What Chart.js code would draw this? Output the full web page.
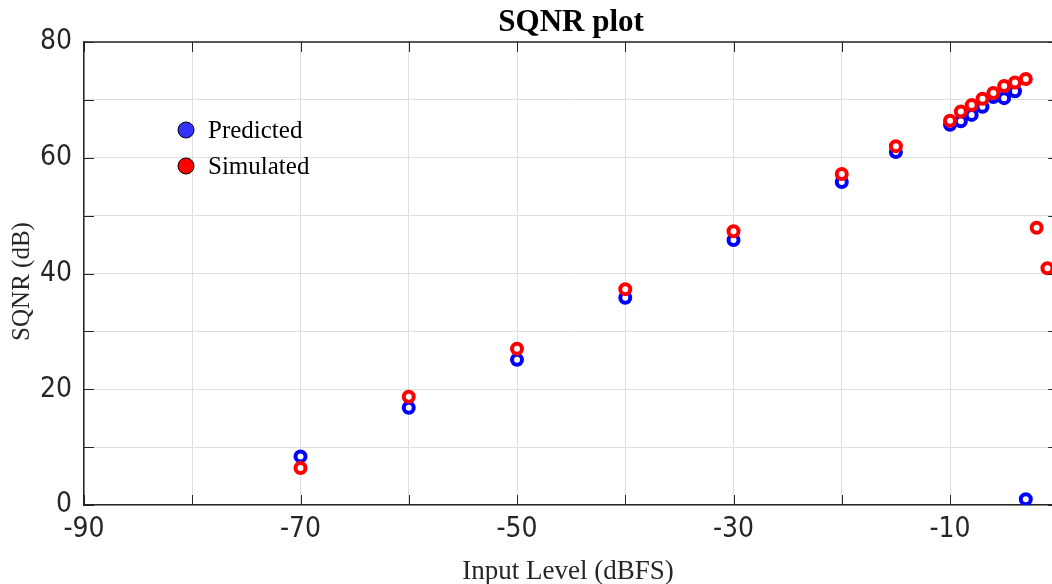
<!DOCTYPE html>
<html>
<head>
<meta charset="utf-8">
<script src="https://cdn.jsdelivr.net/npm/chart.js@4.4.1/dist/chart.umd.min.js"></script>
<style>
html,body{margin:0;padding:0;background:#fff;overflow:hidden;}
canvas{display:block;}
</style>
</head>
<body>
<canvas id="c" width="1052" height="584"></canvas>
<script>
const inputLevels = [-70,-60,-50,-40,-30,-20,-15,-10,-9,-8,-7,-6,-5,-4,-3,-2,-1];
const predicted   = [8.4,16.8,25.1,35.8,45.8,55.8,61.0,65.7,66.3,67.4,68.8,70.5,70.3,71.5,1.0,null,null];
const simulated   = [6.4,18.7,27.0,37.3,47.3,57.2,62.0,66.4,68.0,69.1,70.2,71.2,72.4,73.0,73.6,47.9,40.9];
const xTicks = [-90,-80,-70,-60,-50,-40,-30,-20,-10];
const xTickLabels = [-90,-70,-50,-30,-10];
const yTicks = [0,10,20,30,40,50,60,70,80];
const yTickLabels = [0,20,40,60,80];
const seriesNames = ['Predicted','Simulated'];
const titleText = 'SQNR plot';
const xTitle = 'Input Level (dBFS)';
const yTitle = 'SQNR (dB)';

function pts(vals){ return inputLevels.map((x,i)=>({x:x,y:vals[i]})).filter(p=>p.y!==null); }

const tickFont = {family:'"Liberation Sans Narrow","DejaVu Sans Condensed",sans-serif', size:28};
const serif = '"Liberation Serif","Times New Roman",serif';

const decor = {
  id:'decor',
  afterDraw(chart){
    const ctx = chart.ctx, ca = chart.chartArea;
    const xs = chart.scales.x, ys = chart.scales.y;
    ctx.save();
    ctx.strokeStyle = '#262626';
    ctx.lineWidth = 1.5;
    // top border
    ctx.beginPath(); ctx.moveTo(ca.left, ca.top); ctx.lineTo(ca.right, ca.top); ctx.stroke();
    // inward ticks
    ctx.lineWidth = 1;
    const tl = 10;
    xTicks.forEach(v=>{
      const px = Math.round(xs.getPixelForValue(v))+0.5;
      ctx.beginPath(); ctx.moveTo(px, ca.bottom); ctx.lineTo(px, ca.bottom-tl); ctx.stroke();
      ctx.beginPath(); ctx.moveTo(px, ca.top); ctx.lineTo(px, ca.top+tl); ctx.stroke();
    });
    const rx = xs.getPixelForValue(0);
    yTicks.forEach(v=>{
      const py = Math.round(ys.getPixelForValue(v))+0.5;
      ctx.beginPath(); ctx.moveTo(ca.left, py); ctx.lineTo(ca.left+tl, py); ctx.stroke();
      ctx.beginPath(); ctx.moveTo(rx, py); ctx.lineTo(rx-tl, py); ctx.stroke();
    });
    // title
    ctx.fillStyle = '#000';
    ctx.font = 'bold 31px ' + serif;
    ctx.textAlign = 'center'; ctx.textBaseline = 'alphabetic';
    ctx.fillText(titleText, (ca.left + rx)/2, 31);
    // y axis title
    ctx.save();
    ctx.translate(22, (ca.top+ca.bottom)/2 + 8);
    ctx.rotate(-Math.PI/2);
    ctx.fillStyle = '#262626';
    ctx.font = '25px ' + serif;
    ctx.textAlign = 'center'; ctx.textBaseline = 'middle';
    ctx.fillText(yTitle, 0, 0);
    ctx.restore();
    // legend
    const colors = ['#3333ff','#ff0000'];
    ctx.font = '25px ' + serif;
    ctx.textAlign = 'left'; ctx.textBaseline = 'middle';
    seriesNames.forEach((n,i)=>{
      const cy = 130 + i*36;
      ctx.beginPath(); ctx.arc(186, cy, 8, 0, Math.PI*2);
      ctx.fillStyle = colors[i]; ctx.fill();
      ctx.lineWidth = 1; ctx.strokeStyle = '#000'; ctx.stroke();
      ctx.fillStyle = '#000';
      ctx.fillText(n, 208, cy+1);
    });
    ctx.restore();
  }
};

new Chart(document.getElementById('c'), {
  type:'scatter',
  data:{
    datasets:[
      {label:seriesNames[0], data:pts(predicted), borderColor:'#0000ff', backgroundColor:'#ffffff',
       pointRadius:5, pointBorderWidth:4, pointHoverRadius:5, order:2},
      {label:seriesNames[1], data:pts(simulated), borderColor:'#ff0000', backgroundColor:'#ffffff',
       pointRadius:5, pointBorderWidth:4, pointHoverRadius:5, order:1}
    ]
  },
  options:{
    responsive:false, animation:false, devicePixelRatio:1,
    layout:{autoPadding:false, padding:{top:42,right:0,left:0,bottom:0}},
    plugins:{legend:{display:false}, tooltip:{enabled:false}, title:{display:false}},
    scales:{
      x:{
        type:'linear', min:-90, max:-0.58,
        afterBuildTicks(s){ s.ticks = xTicks.map(v=>({value:v})); },
        afterFit(s){ s.height = 79; s.paddingLeft = 0; s.paddingRight = 0; },
        grid:{color:'#dedede', lineWidth:1, drawTicks:false},
        border:{display:true, color:'#262626', width:1.5},
        ticks:{font:tickFont, color:'#262626', padding:8, maxRotation:0, autoSkip:false,
          callback:(v)=> xTickLabels.includes(v) ? String(v) : ''},
        title:{display:true, text:xTitle, color:'#262626', font:{family:serif, size:27}, padding:{top:0,bottom:-4}}
      },
      y:{
        type:'linear', min:0, max:80,
        afterBuildTicks(s){ s.ticks = yTicks.map(v=>({value:v})); },
        afterFit(s){ s.width = 84; },
        grid:{color:'#dedede', lineWidth:1, drawTicks:false},
        border:{display:true, color:'#262626', width:1.5},
        ticks:{font:tickFont, color:'#262626', padding:12, autoSkip:false,
          callback:(v)=> yTickLabels.includes(v) ? String(v) : ''},
        title:{display:false}
      }
    }
  },
  plugins:[decor]
});
</script>
</body>
</html>
